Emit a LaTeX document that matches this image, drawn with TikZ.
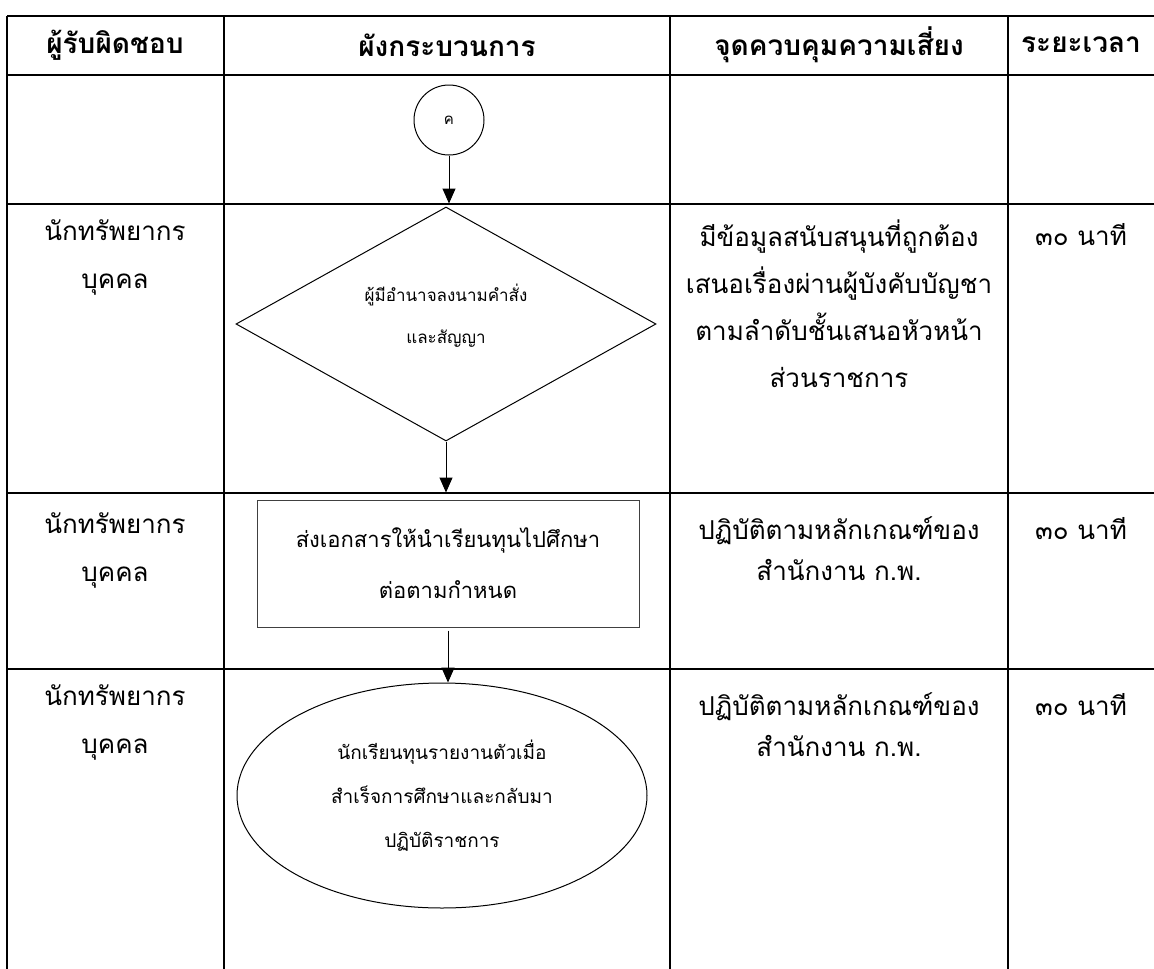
\documentclass[tikz,border=0pt]{standalone}
\usepackage{fontspec}
\newfontfamily\thai[Script=Thai]{Loma}
\usetikzlibrary{shapes.geometric,arrows.meta}
\begin{document}
\begin{tikzpicture}[x=1pt,y=-1pt,
  gridline/.style={line width=1.7pt},
  arr/.style={-{Triangle[length=15pt,width=13pt]}, line width=1pt},
  hdr/.style={font=\thai\bfseries\fontsize{28}{30}\selectfont, inner sep=0pt},
  cell/.style={align=center, font=\thai\fontsize{26}{47}\selectfont, inner sep=0pt},
  cellb/.style={align=center, font=\thai\fontsize{26}{41}\selectfont, inner sep=0pt},
  role/.style={align=center, font=\thai\fontsize{26}{48}\selectfont, inner sep=0pt},
  shapeline/.style={draw, line width=1pt}
]
\useasboundingbox[fill=white] (0,0) rectangle (1154,969);
% grid
\draw[line width=2.4pt] (7,16) -- (1154,16);
\foreach \yy in {75,204,493,669} \draw[gridline] (7,\yy) -- (1154,\yy);
\foreach \xx in {7,224,670,1008} \draw[gridline] (\xx,16) -- (\xx,969);
% header
\node[hdr] (h1) at (115,45) {ผู้รับผิดชอบ};
\node[hdr] (h2) at (447,45) {ผังกระบวนการ};
\node[hdr] (h3) at (839,45) {จุดควบคุมความเสี่ยง};
\node[hdr] (h4) at (1081,45) {ระยะเวลา};
% column 1
\node[role] (r2) at (115,257) {นักทรัพยากร\\บุคคล};
\node[role] (r3) at (115,550) {นักทรัพยากร\\บุคคล};
\node[role] (r4) at (115,722) {นักทรัพยากร\\บุคคล};
% column 3
\node[cell] (k2) at (839,304) {มีข้อมูลสนับสนุนที่ถูกต้อง\\เสนอเรื่องผ่านผู้บังคับบัญชา\\ตามลำดับชั้นเสนอหัวหน้า\\ส่วนราชการ};
\node[cellb] (k3) at (839,549) {ปฏิบัติตามหลักเกณฑ์ของ\\สำนักงาน ก.พ.};
\node[cellb] (k4) at (839,725) {ปฏิบัติตามหลักเกณฑ์ของ\\สำนักงาน ก.พ.};
% column 4
\node[cell] (t2) at (1081,235) {๓๐ นาที};
\node[cell] (t3) at (1081,529) {๓๐ นาที};
\node[cell] (t4) at (1081,705) {๓๐ นาที};
% flow
\node[shapeline, circle, minimum size=70pt, inner sep=0pt, font=\thai\fontsize{15}{16}\selectfont] (c) at (449,120) {ค};
\node[shapeline, diamond, minimum width=420pt, minimum height=234pt, inner sep=0pt] (d) at (446,324) {};
\node[align=center, inner sep=0pt, font=\thai\fontsize{17}{42}\selectfont] (dt) at ([yshift=8pt]d.center) {ผู้มีอำนาจลงนามคำสั่ง\\และสัญญา};
\node[draw=black!75, line width=1pt, rectangle, minimum width=382pt, minimum height=127pt, inner sep=0pt, align=center,
      font=\thai\fontsize{22}{51}\selectfont] (r) at (448,563.5) {ส่งเอกสารให้นำเรียนทุนไปศึกษา\\ต่อตามกำหนด};
\node[shapeline, ellipse, minimum width=410pt, minimum height=225pt, inner sep=0pt, align=center,
      font=\thai\fontsize{19}{44}\selectfont] (e) at (442,795.5) {นักเรียนทุนรายงานตัวเมื่อ\\สำเร็จการศึกษาและกลับมา\\ปฏิบัติราชการ};
\draw[arr] (c.south) -- ([yshift=3pt]c.south |- d.north);
\draw[arr] (d.south) -- ([yshift=7pt]d.south |- r.north);
\draw[arr] ([yshift=-3pt]r.south) -- (r.south |- e.north);
\end{tikzpicture}
\end{document}
